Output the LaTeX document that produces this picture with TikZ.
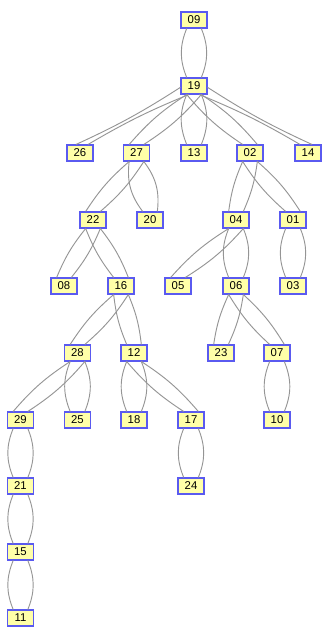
\documentclass[tikz,border=0pt]{standalone}
\usepackage{fontspec}
\setmainfont{Liberation Sans}
\usetikzlibrary{arrows.meta,positioning}
\definecolor{cellfill}{HTML}{FFFFA8}
\definecolor{cellline}{HTML}{5A5AF0}
\definecolor{linkgray}{HTML}{959595}

\begin{document}
\begin{tikzpicture}[x=0.75pt,y=-0.75pt,
  cell/.style={draw=cellline,fill=cellfill,line width=0.8pt,minimum width=19.5pt,
    minimum height=12pt,inner sep=0pt,font=\fontsize{8.5}{9}\selectfont},
  link/.style={draw=linkgray,line width=0.7pt}]
  \useasboundingbox (0,0) rectangle (321,627);
  \node[cell] (n09) at (194,20) {09};
  \node[cell] (n19) at (194,86) {19};
  \node[cell] (n26) at (80,153) {26};
  \node[cell] (n27) at (136.5,153) {27};
  \node[cell] (n13) at (194,153) {13};
  \node[cell] (n02) at (250,153) {02};
  \node[cell] (n14) at (308,153) {14};
  \node[cell] (n22) at (93,220) {22};
  \node[cell] (n20) at (150,220) {20};
  \node[cell] (n04) at (236,220) {04};
  \node[cell] (n01) at (293,220) {01};
  \node[cell] (n08) at (64,286) {08};
  \node[cell] (n16) at (121,286) {16};
  \node[cell] (n05) at (178,286) {05};
  \node[cell] (n06) at (236,286) {06};
  \node[cell] (n03) at (293,286) {03};
  \node[cell] (n28) at (77.5,353) {28};
  \node[cell] (n12) at (134,353) {12};
  \node[cell] (n23) at (221,353) {23};
  \node[cell] (n07) at (277,353) {07};
  \node[cell] (n29) at (20.5,420) {29};
  \node[cell] (n25) at (77.5,420) {25};
  \node[cell] (n18) at (134,420) {18};
  \node[cell] (n17) at (191,420) {17};
  \node[cell] (n10) at (277,420) {10};
  \node[cell] (n21) at (20.5,486) {21};
  \node[cell] (n24) at (191,486) {24};
  \node[cell] (n15) at (20.5,552) {15};
  \node[cell] (n11) at (20.5,618) {11};
  % two links for every parent/child pair, straight below
  \foreach \p/\c in {n09/n19,n19/n13,n27/n20,n04/n06,n01/n03,n28/n25,n12/n18,
      n07/n10,n29/n21,n17/n24,n21/n15,n15/n11}{
    \draw[link] ([xshift=-5.5pt]\p.south) to[bend right=22] ([xshift=-5.5pt]\c.north);
    \draw[link] ([xshift=5.5pt]\p.south) to[bend left=22] ([xshift=5.5pt]\c.north);
  }
  % and off to the side
  \foreach \p/\c in {n19/n27,n19/n02,n27/n22,n02/n04,n02/n01,n22/n08,n22/n16,
      n04/n05,n16/n28,n16/n12,n06/n23,n06/n07,n28/n29,n12/n17}{
    \draw[link] ([xshift=-5.5pt]\p.south) to[bend right=8] ([xshift=-5.5pt]\c.north);
    \draw[link] ([xshift=5.5pt]\p.south) to[bend left=8] ([xshift=5.5pt]\c.north);
  }
  \draw[link] ([yshift=-1pt]n19.west) to[bend left=4] ([xshift=-3pt]n26.north);
  \draw[link] ([xshift=-4pt]n19.south) to[bend right=4] ([xshift=6pt]n26.north);
  \draw[link] ([yshift=-1pt]n19.east) to[bend right=4] ([xshift=3pt]n14.north);
  \draw[link] ([xshift=4pt]n19.south) to[bend left=4] ([xshift=-6pt]n14.north);
\end{tikzpicture}
\end{document}
